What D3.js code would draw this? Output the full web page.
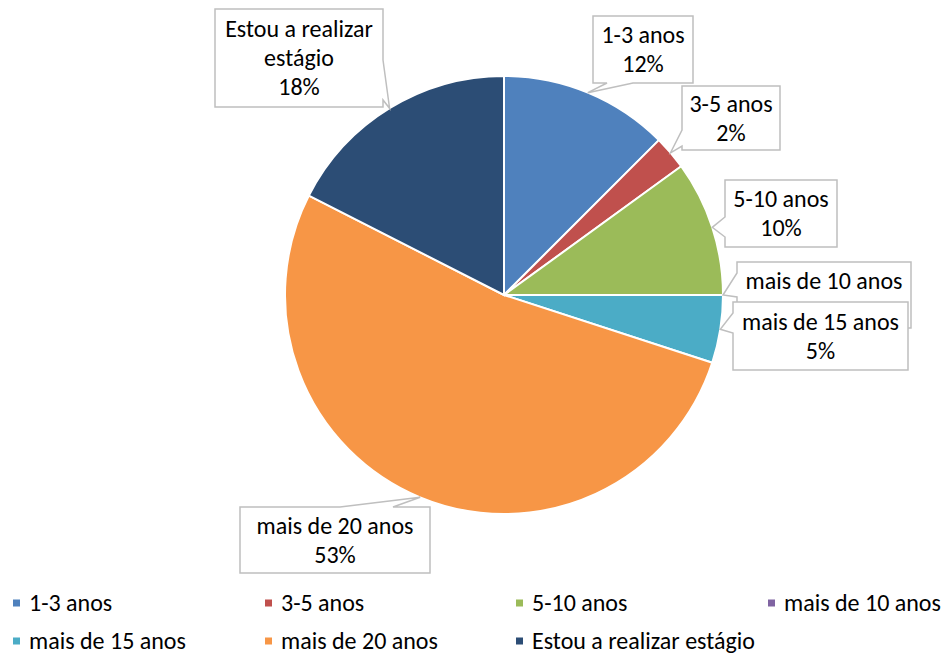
<!DOCTYPE html>
<html>
<head>
<meta charset="utf-8">
<script src="https://cdn.jsdelivr.net/npm/d3@7"></script>
<style>
  body { margin: 0; background: #fff; }
  svg text { font-family: Carlito, Calibri, Lato, sans-serif; fill: #000; }
</style>
</head>
<body>
<div id="chart"></div>
<script>
// Valeurs (parts en %)
const categories = ["1-3 anos", "3-5 anos", "5-10 anos", "mais de 10 anos", "mais de 15 anos", "mais de 20 anos", "Estou a realizar estágio"];
const values = [12.5, 2.5, 10, 0, 5, 52.5, 17.5];
const pctLabels = ["12%", "2%", "10%", "", "5%", "53%", "18%"];
const labelLines = [["1-3 anos"], ["3-5 anos"], ["5-10 anos"], ["mais de 10 anos"], ["mais de 15 anos"], ["mais de 20 anos"], ["Estou a realizar", "estágio"]];

const colors = ["#4F81BD", "#C0504D", "#9BBB59", "#8064A2", "#4BACC6", "#F79646", "#2C4D75"];

const width = 941, height = 658,
    cx = 504, cy = 295, radius = 219,
    fontSize = 24, lineHeight = 29,
    legendCellSize = 7;

// Position des bulles (x, y, largeur, hauteur, côté de la queue, début et fin de la base de la queue)
const callouts = [
    {x: 593, y: 16, w: 100, h: 67, side: "bottom", b1: 14, b2: 40},
    {x: 682, y: 86, w: 98, h: 64, side: "left", b1: 44, b2: 60},
    {x: 725, y: 180, w: 112, h: 67, side: "left", b1: 37, b2: 57},
    {x: 737, y: 262, w: 174, h: 66, side: "left", b1: 11, b2: 35},
    {x: 733, y: 302, w: 175, h: 68, side: "left", b1: 11, b2: 31},
    {x: 240, y: 507, w: 190, h: 66, side: "top", b1: 100, b2: 153},
    {x: 215, y: 9, w: 168, h: 98, side: "right", b1: 51, b2: 91}
];

const legendPos = [[13, 603], [265, 603], [516, 603], [768, 603], [13, 641], [265, 641], [516, 641]];

const svg = d3.select("#chart").append("svg")
    .attr("width", width)
    .attr("height", height);

const pie = d3.pie().sort(null).value(d => d)(values);
const arc = d3.arc().innerRadius(0).outerRadius(radius);

const g = svg.append("g").attr("transform", "translate(" + cx + "," + cy + ")");

g.selectAll("path.slice")
    .data(pie)
    .enter().append("path")
    .attr("class", "slice")
    .attr("d", arc)
    .style("fill", (d, i) => colors[i])
    .style("stroke", "#fff")
    .style("stroke-width", 2);

// Chemin d'une bulle avec sa queue pointant vers la pointe (tx, ty)
function calloutPath(c, tx, ty) {
    const x0 = c.x, y0 = c.y, x1 = c.x + c.w, y1 = c.y + c.h;
    let p = [];
    if (c.side === "bottom") {
        p = [[x0, y0], [x1, y0], [x1, y1], [x0 + c.b2, y1], [tx, ty], [x0 + c.b1, y1], [x0, y1]];
    } else if (c.side === "top") {
        p = [[x0, y0], [x0 + c.b1, y0], [tx, ty], [x0 + c.b2, y0], [x1, y0], [x1, y1], [x0, y1]];
    } else if (c.side === "left") {
        p = [[x0, y0], [x1, y0], [x1, y1], [x0, y1], [x0, y0 + c.b2], [tx, ty], [x0, y0 + c.b1]];
    } else {
        p = [[x0, y0], [x1, y0], [x1, y0 + c.b1], [tx, ty], [x1, y0 + c.b2], [x1, y1], [x0, y1]];
    }
    return "M" + p.map(q => q.join(",")).join("L") + "Z";
}

const labels = svg.append("g");

pie.forEach((d, i) => {
    const c = callouts[i];
    const mid = (d.startAngle + d.endAngle) / 2;
    const tx = cx + radius * Math.sin(mid),
        ty = cy - radius * Math.cos(mid);

    labels.append("path")
        .attr("d", calloutPath(c, tx, ty))
        .style("fill", "#fff")
        .style("stroke", "#BFBFBF")
        .style("stroke-width", 1.5);

    // la ligne du pourcentage est gardée même vide pour conserver la mise en page
    const lines = labelLines[i].concat([pctLabels[i]]);
    const top = c.y + c.h / 2 - (lines.length - 1) * lineHeight / 2;
    const text = labels.append("text")
        .attr("text-anchor", "middle")
        .style("font-size", fontSize + "px");
    lines.forEach((l, k) => {
        text.append("tspan")
            .attr("x", c.x + c.w / 2)
            .attr("y", top + k * lineHeight)
            .attr("dy", "0.35em")
            .text(l);
    });
});

// Légende
const legend = svg.append("g");

legend.selectAll("rect")
    .data(categories)
    .enter().append("rect")
    .attr("x", (d, i) => legendPos[i][0])
    .attr("y", (d, i) => legendPos[i][1] - legendCellSize / 2)
    .attr("width", legendCellSize)
    .attr("height", legendCellSize)
    .style("fill", (d, i) => colors[i]);

legend.selectAll("text")
    .data(categories)
    .enter().append("text")
    .attr("x", (d, i) => legendPos[i][0] + 16)
    .attr("y", (d, i) => legendPos[i][1])
    .attr("dy", "0.35em")
    .style("font-size", fontSize + "px")
    .text(d => d);
</script>
</body>
</html>
